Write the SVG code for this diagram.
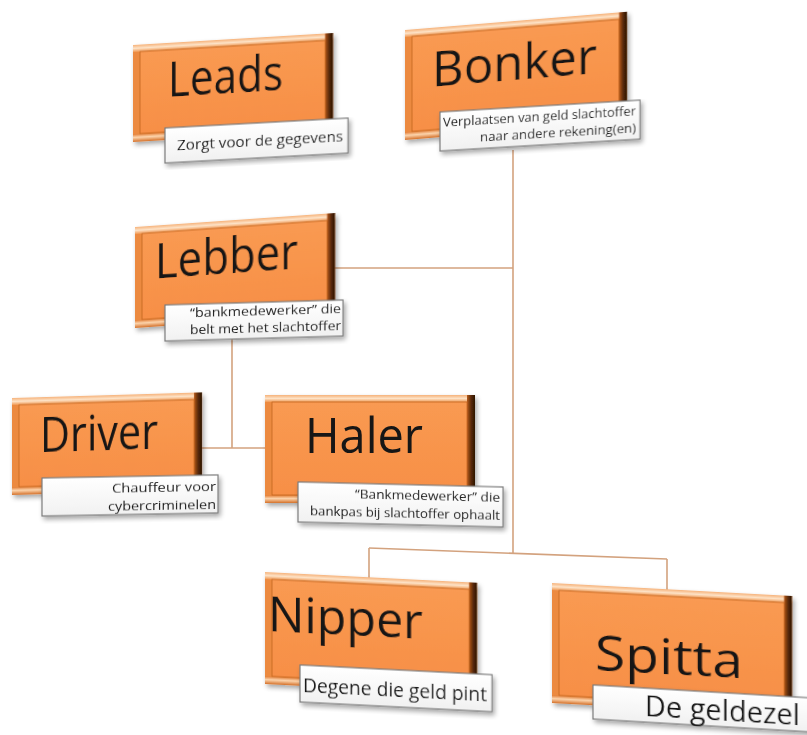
<svg xmlns="http://www.w3.org/2000/svg" width="807" height="735" viewBox="0 0 807 735">
<defs>
<linearGradient id="gTop" x1="0" y1="0" x2="0" y2="1"><stop offset="0" stop-color="#f6b27a"/><stop offset="0.5" stop-color="#fde2c6"/><stop offset="1" stop-color="#f19a55"/></linearGradient>
<linearGradient id="gBot" x1="0" y1="0" x2="0" y2="1"><stop offset="0" stop-color="#e27a30"/><stop offset="0.45" stop-color="#fcd4ac"/><stop offset="1" stop-color="#d47028"/></linearGradient>
<linearGradient id="gSide" x1="0" y1="0" x2="1" y2="0"><stop offset="0" stop-color="#b65a1c"/><stop offset="0.5" stop-color="#5a2a08"/><stop offset="1" stop-color="#2a1204"/></linearGradient>
<linearGradient id="gFace" x1="0" y1="0" x2="0" y2="1"><stop offset="0" stop-color="#f99a52"/><stop offset="1" stop-color="#f78f46"/></linearGradient>
<linearGradient id="gLbl" x1="0" y1="0" x2="0" y2="1"><stop offset="0" stop-color="#ffffff"/><stop offset="1" stop-color="#f1f1f1"/></linearGradient>
<filter id="sh" x="-10%" y="-10%" width="125%" height="130%"><feGaussianBlur in="SourceAlpha" stdDeviation="2.5"/><feOffset dx="2" dy="3"/><feComponentTransfer><feFuncA type="linear" slope="0.35"/></feComponentTransfer><feMerge><feMergeNode/><feMergeNode in="SourceGraphic"/></feMerge></filter>
</defs>
<style>
.frame{fill:#ec8a40}
.top{fill:url(#gTop)}
.bot{fill:url(#gBot)}
.side{fill:url(#gSide)}
.face{fill:url(#gFace);stroke:#c2651f;stroke-width:0.8}
.lbl{fill:url(#gLbl);stroke:#7d7d7d;stroke-width:1.2}
.t{font-family:"Open Sans",Lato,"Liberation Sans",sans-serif;fill:#141414}
.big{font-size:50px}
.sm{font-size:12.5px}
.conn{fill:none;stroke:#d3a27e;stroke-width:1.6}
</style>
<rect width="807" height="735" fill="#ffffff"/>
<g id="connectors">
<path class="conn" d="M513,150 V553"/>
<path class="conn" d="M333,268 H513"/>
<path class="conn" d="M369,548 L667,559"/>
<path class="conn" d="M369,548 V578"/>
<path class="conn" d="M667,559 V590"/>
<path class="conn" d="M232,338 V448"/>
<path class="conn" d="M200,448 H266"/>
</g>
<g id="leads">
<g transform="translate(133,45) skewY(-3.43)" filter="url(#sh)">
<rect class="frame" width="200" height="97"/><rect class="top" width="200" height="7"/><rect class="bot" y="89" width="200" height="8"/><rect class="side" x="192" width="8" height="97"/><rect class="face" x="7" y="7" width="185" height="82"/>
<text class="t big" x="35" y="54" textLength="115" lengthAdjust="spacingAndGlyphs">Leads</text>
</g>
<g transform="translate(165,128) skewY(-3.1)" filter="url(#sh)">
<rect class="lbl" width="183" height="35"/>
<text class="t" font-size="15" x="12" y="23" textLength="166" lengthAdjust="spacingAndGlyphs">Zorgt voor de gegevens</text>
</g>
</g>
<g id="bonker">
<g transform="translate(405,30) skewY(-4.7)" filter="url(#sh)">
<rect class="frame" width="222" height="110"/><rect class="top" width="222" height="7"/><rect class="bot" y="102" width="222" height="8"/><rect class="side" x="214" width="8" height="110"/><rect class="face" x="7" y="7" width="207" height="95"/>
<text class="t big" font-size="52" x="27" y="59" textLength="165" lengthAdjust="spacingAndGlyphs">Bonker</text>
</g>
<g transform="translate(440,112) skewY(-3.4)" filter="url(#sh)">
<rect class="lbl" width="200" height="39"/>
<text class="t sm" x="3" y="15" textLength="193" lengthAdjust="spacingAndGlyphs">Verplaatsen van geld slachtoffer</text>
<text class="t sm" x="40" y="32.5" textLength="156" lengthAdjust="spacingAndGlyphs">naar andere rekening(en)</text>
</g>
</g>
<g id="lebber">
<g transform="translate(135,227) skewY(-4)" filter="url(#sh)">
<rect class="frame" width="200" height="101"/><rect class="top" width="200" height="7"/><rect class="bot" y="93" width="200" height="8"/><rect class="side" x="192" width="8" height="101"/><rect class="face" x="7" y="7" width="185" height="86"/>
<text class="t big" x="20" y="53" textLength="143" lengthAdjust="spacingAndGlyphs">Lebber</text>
</g>
<g transform="translate(165,305) skewY(-1.6)" filter="url(#sh)">
<rect class="lbl" width="178" height="36"/>
<text class="t sm" x="25" y="12.5" textLength="151" lengthAdjust="spacingAndGlyphs">“bankmedewerker” die</text>
<text class="t sm" x="25" y="30" textLength="151" lengthAdjust="spacingAndGlyphs">belt met het slachtoffer</text>
</g>
</g>
<g id="driver">
<g transform="translate(12,398) skewY(-1.7)" filter="url(#sh)">
<rect class="frame" width="190" height="97"/><rect class="top" width="190" height="7"/><rect class="bot" y="89" width="190" height="8"/><rect class="side" x="182" width="8" height="97"/><rect class="face" x="7" y="7" width="175" height="82"/>
<text class="t big" x="28" y="55" textLength="118" lengthAdjust="spacingAndGlyphs">Driver</text>
</g>
<g transform="translate(42,478) skewY(-1)" filter="url(#sh)">
<rect class="lbl" width="176" height="38"/>
<text class="t sm" x="70" y="16.5" textLength="104" lengthAdjust="spacingAndGlyphs">Chauffeur voor</text>
<text class="t sm" x="66" y="34" textLength="108" lengthAdjust="spacingAndGlyphs">cybercriminelen</text>
</g>
</g>
<g id="haler">
<g transform="translate(265,395)" filter="url(#sh)">
<rect class="frame" width="210" height="108"/><rect class="top" width="210" height="7"/><rect class="bot" y="100" width="210" height="8"/><rect class="side" x="202" width="8" height="108"/><rect class="face" x="7" y="7" width="195" height="93"/>
<text class="t big" x="40" y="58" textLength="118" lengthAdjust="spacingAndGlyphs">Haler</text>
</g>
<g transform="translate(298,482) skewY(1.4)" filter="url(#sh)">
<rect class="lbl" width="205" height="40"/>
<text class="t sm" x="57" y="15.5" textLength="145" lengthAdjust="spacingAndGlyphs">“Bankmedewerker” die</text>
<text class="t sm" x="12" y="33" textLength="190" lengthAdjust="spacingAndGlyphs">bankpas bij slachtoffer ophaalt</text>
</g>
</g>
<g id="nipper">
<g transform="translate(265,572) skewY(2.9)" filter="url(#sh)">
<rect class="frame" width="212" height="112"/><rect class="top" width="212" height="7"/><rect class="bot" y="104" width="212" height="8"/><rect class="side" x="204" width="8" height="112"/><rect class="face" x="7" y="7" width="197" height="97"/>
<text class="t big" font-size="52" x="3" y="59" textLength="155" lengthAdjust="spacingAndGlyphs">Nipper</text>
</g>
<g transform="translate(300,665) skewY(2.9)" filter="url(#sh)">
<rect class="lbl" width="192" height="37"/>
<text class="t" font-size="20" x="3" y="27" textLength="184" lengthAdjust="spacingAndGlyphs">Degene die geld pint</text>
</g>
</g>
<g id="spitta">
<g transform="translate(552,583) skewY(3.1)" filter="url(#sh)">
<rect class="frame" width="240" height="120"/><rect class="top" width="240" height="7"/><rect class="bot" y="112" width="240" height="8"/><rect class="side" x="232" width="8" height="120"/><rect class="face" x="7" y="7" width="225" height="105"/>
<text class="t big" x="43" y="85" textLength="148" lengthAdjust="spacingAndGlyphs">Spitta</text>
</g>
<g transform="translate(593,685) skewY(3.4)" filter="url(#sh)">
<rect class="lbl" width="225" height="34"/>
<text class="t" font-size="29" x="52" y="28" textLength="155" lengthAdjust="spacingAndGlyphs">De geldezel</text>
</g>
</g>
</svg>
